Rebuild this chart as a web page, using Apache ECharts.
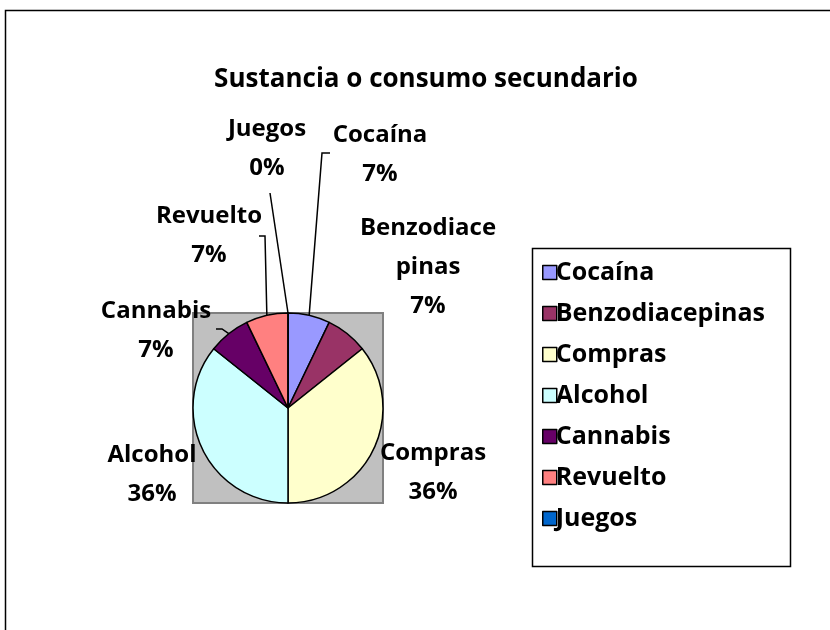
<!DOCTYPE html>
<html><head><meta charset="utf-8">
<script src="https://cdn.jsdelivr.net/npm/echarts@6/dist/echarts.min.js"></script>
<style>html,body{margin:0;padding:0;background:#fff}#c{width:830px;height:630px}</style>
</head><body><div id="c"></div>
<script>
const titleText = 'Sustancia o consumo secundario';
const categories = ['Cocaína','Benzodiacepinas','Compras','Alcohol','Cannabis','Revuelto','Juegos'];
const values = [1,1,5,5,1,1,0];
const colors = ['#9999FF','#993366','#FFFFCC','#CCFFFF','#660066','#FF8080','#0066CC'];
// label anchor positions and leader-line bends (layout only)
const labelPos = [[380,155],[428,267],[433,473],[152,475],[156,331],[209,236],[267,149]];
const lineBend = [[322,153],null,null,null,[222,329],[265,236],[270,193]];
const lineTick = [[330,153],null,null,null,[216,329],[259,236],null];
const FONT = 'Open Sans';

const chart = echarts.init(document.getElementById('c'), null, {renderer:'canvas'});
chart.setOption({
  backgroundColor:'#fff',
  animation:false,
  title:{text:titleText,left:421,top:62,textAlign:'center',
    textStyle:{fontFamily:FONT,fontWeight:'bold',fontSize:26,color:'#000'}},
  graphic:[
    {type:'rect',shape:{x:5.5,y:10.5,width:840,height:640},style:{fill:null,stroke:'#000',lineWidth:1.5},z:-10},
    {type:'rect',shape:{x:193,y:313,width:190,height:190},style:{fill:'#C0C0C0',stroke:'#808080',lineWidth:2},z:-5},
    {type:'rect',shape:{x:532.5,y:248.5,width:258,height:318},style:{fill:'#fff',stroke:'#000',lineWidth:1.5},z:-5}
  ],
  legend:{orient:'vertical',left:537,top:255,itemWidth:14,itemHeight:14,itemGap:16,
    icon:'rect',
    textStyle:{fontFamily:FONT,fontWeight:'bold',fontSize:25,color:'#000',lineHeight:24,padding:[0,0,0,-6]},
    itemStyle:{borderColor:'#000',borderWidth:1.5},
    data:categories},
  series:[{
    type:'pie',center:[288,408],radius:95,startAngle:90,clockwise:true,
    avoidLabelOverlap:false,
    itemStyle:{borderColor:'#000',borderWidth:1.5},
    label:{show:true,position:'outside',fontFamily:FONT,fontWeight:'bold',fontSize:24,lineHeight:39,color:'#000',align:'center',
      formatter:function(p){
        let n=p.name; if(n.length>12) n=n.slice(0,10)+'\n'+n.slice(10);
        return n+'\n'+Math.round(p.percent)+'%';
      }},
    labelLine:{show:true,length:5,length2:5,lineStyle:{color:'#000',width:1.5}},
    labelLayout:function(p){
      const i=p.dataIndex, q=labelPos[i];
      const o={x:q[0],y:q[1],align:'center',verticalAlign:'middle'};
      if(lineBend[i] && p.labelLinePoints){
        const s=p.labelLinePoints[0];
        o.labelLinePoints=[s,lineBend[i],lineTick[i]||lineBend[i]];
      }
      return o;
    },
    emphasis:{disabled:true},
    data:categories.map((c,i)=>({name:c,value:values[i],itemStyle:{color:colors[i]},labelLine:{show:!!lineBend[i]}}))
  }]
});
</script></body></html>
